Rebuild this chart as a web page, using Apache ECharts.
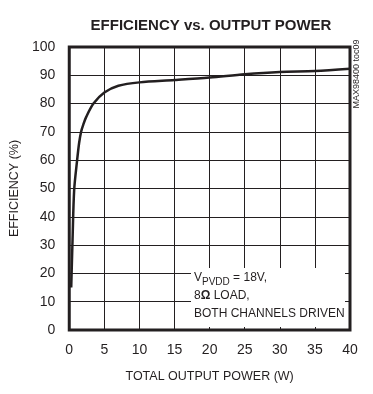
<!DOCTYPE html>
<html><head><meta charset="utf-8">
<script src="https://cdn.jsdelivr.net/npm/echarts@6/dist/echarts.min.js"></script>
<style>html,body{margin:0;padding:0;background:#fff}#c{width:373px;height:394px}</style>
</head><body><div id="c"></div>
<script>
var power = [0.28, 0.47, 0.7, 1.12, 1.4, 1.68, 2.0, 2.42, 3.45, 5, 7, 10, 15, 20, 25, 30, 35, 40];
var efficiency = [15, 32, 49.5, 60, 66, 70, 72.6, 75.3, 80, 83.9, 86.3, 87.5, 88.3, 89.2, 90.4, 91.2, 91.5, 92.3];
var xTicks = [0, 5, 10, 15, 20, 25, 30, 35, 40];
var yTicks = [0, 10, 20, 30, 40, 50, 60, 70, 80, 90, 100];

var FONT = '"Liberation Sans Narrow", "Liberation Sans", Arial, sans-serif';
var INK = '#231f20';
var chart = echarts.init(document.getElementById('c'));
chart.setOption({
  animation: false,
  title: {
    text: 'EFFICIENCY vs. OUTPUT POWER',
    left: 206, top: 13, textAlign: 'center',
    textStyle: { fontFamily: FONT, fontWeight: 'bold', fontSize: 15, color: INK }
  },
  grid: { left: 64, right: 23, top: 47, bottom: 64, show: true, borderWidth: 3, borderColor: INK, backgroundColor: 'transparent' },
  xAxis: {
    type: 'value', min: 0, max: 40, interval: 5,
    name: 'TOTAL OUTPUT POWER (W)', nameLocation: 'middle', nameGap: 40,
    nameTextStyle: { fontFamily: FONT, fontSize: 12.5, color: INK },
    axisLine: { show: false }, axisTick: { show: false },
    axisLabel: { fontFamily: FONT, fontSize: 14, color: INK, margin: 13,
      formatter: function (v) { return xTicks.indexOf(v) >= 0 ? String(v) : ''; } },
    splitLine: { show: true, lineStyle: { color: INK, width: 1 } }
  },
  yAxis: {
    type: 'value', min: 0, max: 100, interval: 10,
    name: 'EFFICIENCY (%)', nameLocation: 'middle', nameGap: 42, nameRotate: 90,
    nameTextStyle: { fontFamily: FONT, fontSize: 12.5, color: INK },
    axisLine: { show: false }, axisTick: { show: false },
    axisLabel: { fontFamily: FONT, fontSize: 14, color: INK, margin: 14,
      formatter: function (v) { return yTicks.indexOf(v) >= 0 ? String(v) : ''; } },
    splitLine: { show: true, lineStyle: { color: INK, width: 1 } }
  },
  series: [{
    type: 'line', smooth: 0.3, symbol: 'none',
    lineStyle: { color: INK, width: 2.5 },
    data: power.map(function (p, i) { return [p, efficiency[i]]; }),
    z: 5
  }],
  graphic: [
    { type: 'rect', shape: { x: 191, y: 268, width: 154, height: 59 }, style: { fill: '#fff' }, z: 10 },
    { type: 'text', left: 194, top: 271, z: 11,
      style: {
        text: '{m|V}{s|PVDD}{m| = 18V,}\n{m|8}{b|Ω}{m| LOAD,}\n{m|BOTH CHANNELS DRIVEN}',
        rich: {
          m: { fontFamily: FONT, fontSize: 12, fill: INK, lineHeight: 18 },
          s: { fontFamily: FONT, fontSize: 10, fill: INK, lineHeight: 18, verticalAlign: 'bottom', padding: [6, 0, 0, 0] },
          b: { fontFamily: FONT, fontSize: 12, fontWeight: 'bold', fill: INK, lineHeight: 18 }
        }
      }
    },
    { type: 'text', x: 357, y: 74, rotation: Math.PI / 2, z: 11,
      style: { text: 'MAX98400 toc09', fontFamily: FONT, fontSize: 9, fill: INK, align: 'center', verticalAlign: 'middle' } }
  ]
});
</script></body></html>
